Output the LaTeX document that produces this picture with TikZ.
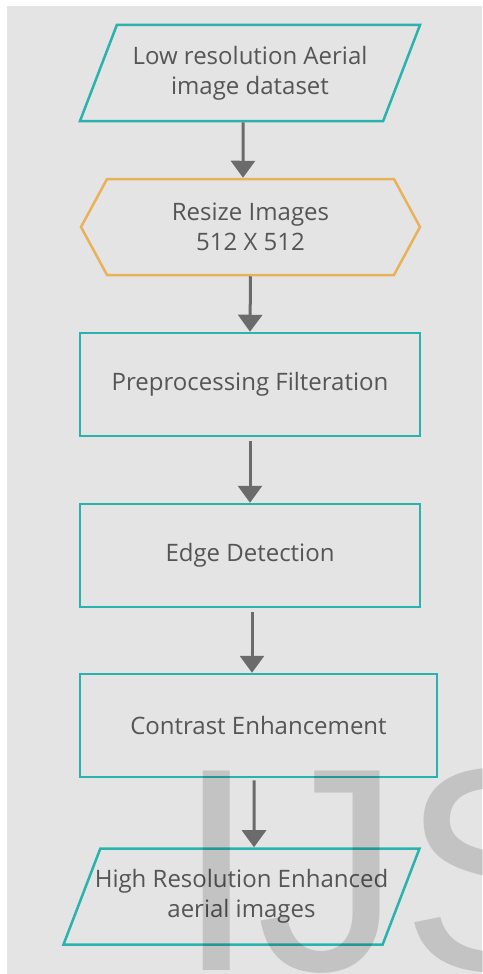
\documentclass[tikz,border=0pt]{standalone}
\usepackage{fontspec}
\setmainfont{Open Sans}
\newfontfamily\markfont{Liberation Sans}
\usetikzlibrary{shapes.geometric,shapes.symbols,arrows.meta,positioning}
\definecolor{flowteal}{HTML}{2AB3AC}
\definecolor{floworange}{HTML}{E9B15A}
\definecolor{flowbg}{HTML}{E4E4E4}
\definecolor{flowtext}{HTML}{555555}
\definecolor{flowgray}{HTML}{6B6B6B}

\begin{document}
\begin{tikzpicture}[x=1pt, y=-1pt,
    io/.style={trapezium, trapezium left angle=69, trapezium right angle=111,
               trapezium stretches body=true, draw=flowteal, line width=2.5pt,
               minimum width=340pt, minimum height=96pt, align=center,
               inner xsep=0pt, inner ysep=21pt, text=flowtext,
               font=\fontsize{24}{30}\selectfont},
    prep/.style={signal, signal to=west and east, signal pointer angle=123,
                 draw=floworange, line width=2.5pt, minimum width=339pt,
                 minimum height=96pt, align=center, text=flowtext,
                 font=\fontsize{24}{30}\selectfont},
    stepbox/.style={rectangle, draw=flowteal, line width=2.5pt,
                    minimum width=340pt, minimum height=103pt, align=center,
                    text=flowtext, font=\fontsize{24}{30}\selectfont},
    arr/.style={-{Triangle[width=24pt,length=17pt]}, line width=3pt, flowgray}
]
    \useasboundingbox (0,0) rectangle (482,974);
    \fill[white] (0,0) rectangle (482,974);
    \fill[flowbg] (7,6) rectangle (482,974);

    \node[io] (lowres) at (250,73) {Low resolution Aerial\\image dataset};
    \node[prep] (resize) at (250.5,227) {Resize Images\\512 X 512};
    \node[stepbox] (filter) at (250,384.5) {Preprocessing Filteration};
    \node[stepbox] (edges) at (250,555.5) {Edge Detection};
    \node[stepbox, minimum width=357pt] (contrast) at (258.5,725.5) {Contrast Enhancement};
    \node[io, minimum width=356pt, inner xsep=-6pt] (highres) at (241.5,896.5) {High Resolution Enhanced\\aerial images};

    \draw[arr] ([xshift=-7pt]lowres.south) -- ([xshift=-7.5pt]resize.north);
    \draw[arr] (resize.south) -- (filter.north);
    \draw[arr] ([yshift=-4pt]filter.south) -- (edges.north);
    \draw[arr] ([xshift=2pt,yshift=-4pt]edges.south) -- ([xshift=-6.5pt]contrast.north);
    \draw[arr] ([xshift=-4.5pt,yshift=-2pt]contrast.south) -- ([xshift=12.5pt]highres.north);

    % watermark
    \begin{scope}
        \clip (7,6) rectangle (482,974);
        \node[anchor=base west, inner sep=0pt, text=black, opacity=0.14,
              font=\markfont\fontsize{290}{290}\selectfont] (mark) at (176,970) {IJS};
    \end{scope}
\end{tikzpicture}
\end{document}
